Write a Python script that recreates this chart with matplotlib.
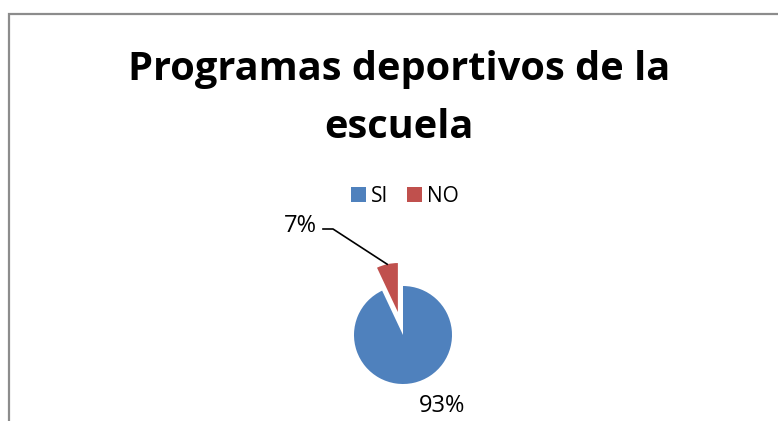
import matplotlib
matplotlib.use('Agg')
import matplotlib.pyplot as plt
import numpy as np
from matplotlib.patches import Rectangle

# datos del grafico
categorias = ['SI', 'NO']
porcentajes = [93, 7]
etiquetas = ['93%', '7%']
colores = ['#4F81BD', '#C0504D']

W, H = 778, 421
plt.rcParams['font.family'] = ['Open Sans', 'DejaVu Sans']

fig = plt.figure(figsize=(W / 100, H / 100), dpi=100)
# ejes en pixeles (y hacia arriba)
ax = fig.add_axes([0, 0, 1, 1])

# marco gris del grafico (cortado a la derecha y abajo)
fig.patches.append(Rectangle((9 / W, -0.05), 1.0, (H - 14) / H + 0.05,
                             transform=fig.transFigure, fill=False,
                             edgecolor='#8c8c8c', linewidth=1.6))

# titulo
fig.text(399 / W, 1 - 80 / H, 'Programas deportivos de la', ha='center',
         va='baseline', fontsize=28.6, fontweight='bold')
fig.text(399 / W, 1 - 138 / H, 'escuela', ha='center', va='baseline',
         fontsize=28.6, fontweight='bold')

# pastel (explode en unidades de datos = pixeles)
centro = (403, H - 335)
radio = 49
wedges, _ = ax.pie(porcentajes, colors=colores, startangle=90, counterclock=False,
                   explode=[0, 0.48 * radio], center=centro, radius=radio,
                   wedgeprops=dict(linewidth=0), frame=True)
ax.set_xlim(0, W)
ax.set_ylim(0, H)
ax.set_aspect('auto')
ax.axis('off')

# etiquetas de porcentaje
ax.text(419, H - 412, etiquetas[0], ha='left', va='baseline', fontsize=17)
ax.text(317, H - 232, etiquetas[1], ha='right', va='baseline', fontsize=17)

# linea guia para 7%
w = wedges[1]
ang = np.deg2rad((w.theta1 + w.theta2) / 2)
px = w.center[0] + w.r * np.cos(ang)
py = w.center[1] + w.r * np.sin(ang)
ax.plot([323, 333, px], [H - 229, H - 229, py], color='black', linewidth=1.2)

# leyenda
fig.legend(wedges, categorias, loc='center', bbox_to_anchor=(405 / W, 1 - 196 / H),
           ncol=2, frameon=False, fontsize=15, handlelength=0.7, handleheight=0.7,
           handletextpad=0.25, columnspacing=0.9, borderpad=0)

fig.savefig('out.png', dpi=100)
